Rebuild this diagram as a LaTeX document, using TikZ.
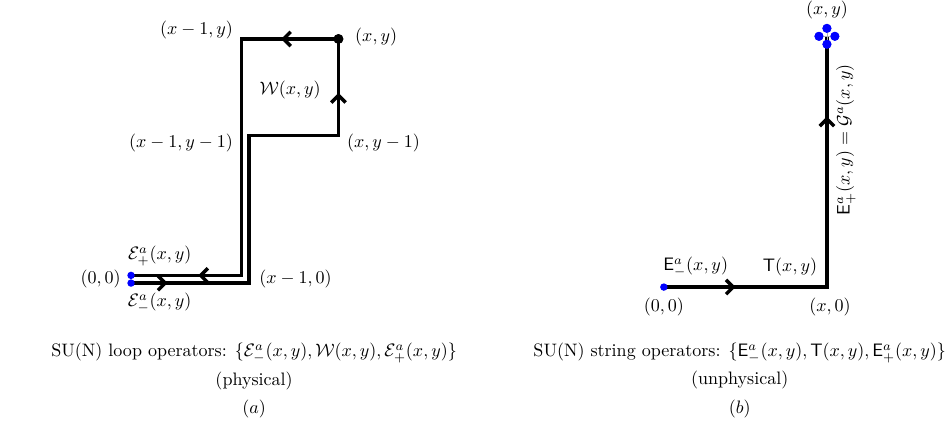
\documentclass[tikz,border=0pt]{standalone}
\usetikzlibrary{arrows.meta,decorations.markings,positioning,calc}

\definecolor{siteblue}{HTML}{0000FF}
\definecolor{crossgray}{HTML}{B0B0B0}
\tikzset{
  link/.style={line width=1.9pt},
  midarrow/.style={
    postaction={decorate},
    decoration={markings,
      mark=at position #1 with {\arrow{Straight Barb[length=1.4mm, width=2.8mm]}}}
  },
  midarrow/.default=0.5,
  site/.style={circle, fill=siteblue, inner sep=0pt, minimum size=1.45mm},
  bigsite/.style={circle, fill=siteblue, inner sep=0pt, minimum size=1.75mm},
  corner/.style={circle, fill=black, inner sep=0pt, minimum size=1.9mm},
  lbl/.style={inner sep=1pt}
}

\begin{document}
\begin{tikzpicture}
  \useasboundingbox (-2.555,-2.94) rectangle (15.97,5.52);

  % (a) loop operators
  \coordinate (a1) at (2.30,0);
  \coordinate (a2) at (2.30,2.88);
  \coordinate (a3) at (4.045,2.88);
  \coordinate (a5) at (2.15,4.76);
  \coordinate (a6) at (2.15,0.15);
  \node[corner] (a4) at (4.045,4.76) {};

  \draw[link] (0,0) coordinate (o1) -- (a1) -- (a2) -- (a3) -- (a4.center)
    -- (a5) -- (a6) -- (0,0.15) coordinate (o2);
  \path[link, midarrow=0.31] (o1) -- (a1);
  \path[link, midarrow=0.44] (a3) -- (a4.center);
  \path[link, midarrow=0.59] (a4.center) -- (a5);
  \path[link, midarrow=0.39] (a6) -- (o2);
  \node[corner] (a4dot) at (a4) {};
  \node[site] (s1) at (o1) {};
  \node[site] (s2) at (o2) {};

  \node[lbl, anchor=east] (lxm1y)   at (2.03,4.93) {$(x-1,y)$};
  \node[lbl, anchor=west] (lxy)     at (4.33,4.80) {$(x,y)$};
  \node[lbl, anchor=east] (lw)      at (3.74,3.76) {$\mathcal{W}(x,y)$};
  \node[lbl, anchor=east] (lxm1ym1) at (2.03,2.73) {$(x-1,y-1)$};
  \node[lbl, anchor=west] (lxym1)   at (4.17,2.73) {$(x,y-1)$};
  \node[lbl] (lep)                  at (0.56,0.53) {$\mathcal{E}^a_+(x,y)$};
  \node[lbl, anchor=east] (l00)     at (-0.16,0.07) {$(0,0)$};
  \node[lbl] (lem)                  at (0.56,-0.39) {$\mathcal{E}^a_-(x,y)$};
  \node[lbl, anchor=west] (lxm10)   at (2.46,0.07) {$(x-1,0)$};

  \node[align=center] (capa) at (2.4,-1.9)
    {SU(N) loop operators: $\{\mathcal{E}^a_-(x,y), \mathcal{W}(x,y), \mathcal{E}^a_+(x,y)\}$\\[3.6pt]
     (physical)\\[3.6pt]
     $(a)$};

  % (b) string operators
  \begin{scope}[shift={(10.39,-0.078)}]
    \coordinate (b1) at (3.18,0);
    \coordinate (b2) at (3.18,4.89);

    \draw[link] (0,0) coordinate (b0) -- (b1) -- (b2);
    \path[link, midarrow=0.44] (b0) -- (b1);
    \path[link, midarrow=0.68] (b1) -- (b2);
    \node[site] (t0) at (b0) {};

    % charges at the end of the string
    \foreach \n/\dx/\dy in {q1/0/0.155, q2/-0.155/0, q3/0.155/0, q4/0/-0.155}
      \node[bigsite] (\n) at ($(b2)+(\dx,\dy)$) {};
    \draw[crossgray, line width=0.4pt] (q1.center) -- (q4.center);
    \draw[crossgray, line width=0.4pt] (q2.center) -- (q3.center);
    \foreach \n in {q1,q2,q3,q4}
      \node[bigsite] at (\n) {};

    \node[lbl] (lem2) at (0.62,0.39)  {$\mathsf{E}^a_-(x,y)$};
    \node[lbl] (lt)   at (2.46,0.39)  {$\mathsf{T}(x,y)$};
    \node[lbl] (l002) at (0,-0.39)    {$(0,0)$};
    \node[lbl] (lx0)  at (3.24,-0.39) {$(x,0)$};
    \node[lbl] (lxy2) at (3.18,5.40)  {$(x,y)$};
    \node[lbl, rotate=90] (lep2) at (3.55,2.87)
      {$\mathsf{E}^a_+(x,y) = \mathcal{G}^a(x,y)$};

    \node[align=center] (capb) at (1.48,-1.82)
      {SU(N) string operators: $\{\mathsf{E}^a_-(x,y), \mathsf{T}(x,y), \mathsf{E}^a_+(x,y)\}$\\[3.6pt]
       (unphysical)\\[3.6pt]
       $(b)$};
  \end{scope}
\end{tikzpicture}
\end{document}
